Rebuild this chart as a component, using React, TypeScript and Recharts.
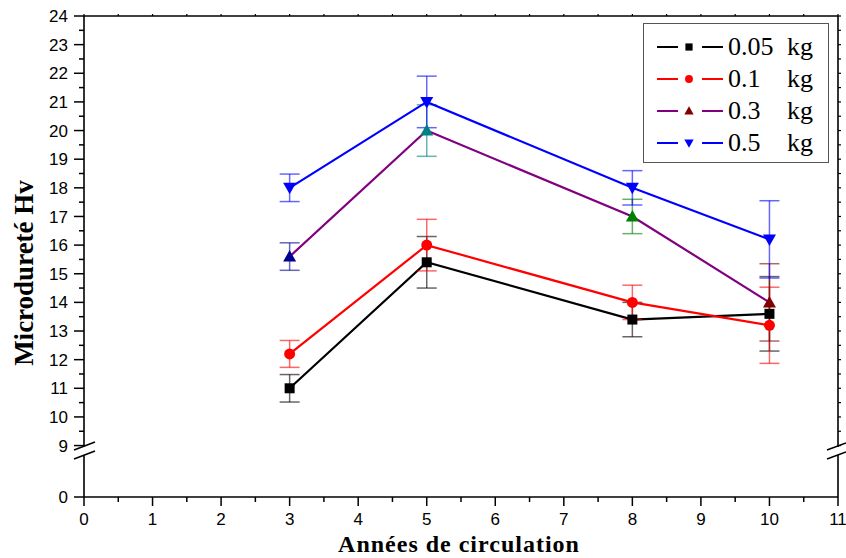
import { ErrorBar, Legend, Line, LineChart, XAxis, YAxis } from "recharts";

// Microhardness (Hv) vs years in service, per load
const YEARS = [3, 5, 8, 10];

const HV_005 = [11.0, 15.4, 13.4, 13.6];
const ERR_005 = [0.48, 0.9, 0.6, 1.3];
const HV_01 = [12.2, 16.0, 14.0, 13.2];
const ERR_01 = [0.47, 0.9, 0.6, 1.33];
const HV_03 = [15.6, 20.0, 17.0, 14.0];
const ERR_03 = [0.48, 0.9, 0.6, 1.35];
const HV_05 = [18.0, 21.0, 18.0, 16.2];
const ERR_05 = [0.48, 0.9, 0.6, 1.35];

// the 0.3 kg markers change colour from point to point
const COLORS_03 = ["#000090", "#008080", "#008000", "#800000"];

const X_TICKS = [0, 1, 2, 3, 4, 5, 6, 7, 8, 9, 10, 11];
const Y_TICKS = [9, 10, 11, 12, 13, 14, 15, 16, 17, 18, 19, 20, 21, 22, 23, 24];
const Y_LOW_TICKS = [0];

const X_HALF = X_TICKS.flatMap((v, i) => (i < X_TICKS.length - 1 ? [v, v + 0.5] : [v]));
const Y_HALF = Y_TICKS.flatMap((v, i) => (i < Y_TICKS.length - 1 ? [v, v + 0.5] : [v]));

type Shape = "square" | "circle" | "up" | "down";

const SERIES = [
  { key: "s005", err: "e005", name: "0.05 kg", color: "#000000", shape: "square" as Shape, marker: "#000000" },
  { key: "s01", err: "e01", name: "0.1 kg", color: "#ff0000", shape: "circle" as Shape, marker: "#ff0000" },
  { key: "s03", err: "e03", name: "0.3 kg", color: "#800080", shape: "up" as Shape, marker: "#800000" },
  { key: "s05", err: "e05", name: "0.5 kg", color: "#0000ff", shape: "down" as Shape, marker: "#0000ff" },
];

const rows = YEARS.map((x, i) => ({
  x,
  s005: HV_005[i],
  e005: ERR_005[i],
  s01: HV_01[i],
  e01: ERR_01[i],
  s03: HV_03[i],
  e03: ERR_03[i],
  s05: HV_05[i],
  e05: ERR_05[i],
}));

const W = 846;
const H = 558;
const TOP_PLOT_BOTTOM = 447; // upper panel (9..24) ends here
const TOP_H = 462; // a bit of room below for the "9" label
const LOW_TOP = 455; // lower panel (0) starts after the break
const LOW_H = H - LOW_TOP;

const sans = "'Liberation Sans', Arial, sans-serif";
const serif = "'Liberation Serif', 'Times New Roman', serif";
const axisStyle = { stroke: "#000", strokeWidth: 1.6 };

function Marker({ shape, cx, cy, fill, k = 1 }: { shape: Shape; cx: number; cy: number; fill: string; k?: number }) {
  if (shape === "square") return <rect x={cx - 5 * k} y={cy - 5 * k} width={10 * k} height={10 * k} fill={fill} />;
  if (shape === "circle") return <circle cx={cx} cy={cy} r={5.5 * k} fill={fill} />;
  if (shape === "up")
    return (
      <polygon
        points={`${cx},${cy - 6.5 * k} ${cx + 6.5 * k},${cy + 5 * k} ${cx - 6.5 * k},${cy + 5 * k}`}
        fill={fill}
      />
    );
  return (
    <polygon
      points={`${cx},${cy + 6.5 * k} ${cx + 6.5 * k},${cy - 5 * k} ${cx - 6.5 * k},${cy - 5 * k}`}
      fill={fill}
    />
  );
}

function LeftTick(props: any) {
  const { x, y, payload } = props;
  const major = Number.isInteger(payload.value);
  return (
    <g>
      <line x1={x} x2={x - (major ? 10 : 5)} y1={y} y2={y} stroke="#000" strokeWidth={1.5} />
      {major && (
        <text x={x - 16} y={y} dy="0.36em" textAnchor="end" fontFamily={sans} fontSize={17} fill="#000">
          {payload.value}
        </text>
      )}
    </g>
  );
}

function RightTick(props: any) {
  const { x, y } = props;
  return <line x1={x} x2={x + 3} y1={y} y2={y} stroke="#000" strokeWidth={1.2} />;
}

function TopTick(props: any) {
  const { x, y } = props;
  return <line x1={x} x2={x} y1={y} y2={y - 2} stroke="#000" strokeWidth={1.2} />;
}

function BottomTick(props: any) {
  const { x, y, payload } = props;
  const major = Number.isInteger(payload.value);
  return (
    <g>
      <line x1={x} x2={x} y1={y} y2={y + (major ? 9 : 5)} stroke="#000" strokeWidth={1.5} />
      {major && (
        <text x={x} y={y + 28} textAnchor="middle" fontFamily={sans} fontSize={17} fill="#000">
          {payload.value}
        </text>
      )}
    </g>
  );
}

function LegendBox() {
  return (
    <div
      style={{
        width: 186,
        height: 140,
        boxSizing: "border-box",
        border: "1.5px solid #555",
        background: "#fff",
        paddingTop: 7,
      }}
    >
      {SERIES.map((s) => {
        const [num, unit] = s.name.split(" ");
        return (
          <div key={s.key} style={{ display: "flex", alignItems: "center", height: 32 }}>
            <svg width={84} height={32} style={{ flex: "none" }}>
              <line x1={13} x2={34} y1={16} y2={16} stroke={s.color} strokeWidth={2} />
              <Marker shape={s.shape} cx={45} cy={16} fill={s.marker} k={0.72} />
              <line x1={58} x2={79} y1={16} y2={16} stroke={s.color} strokeWidth={2} />
            </svg>
            <span style={{ fontFamily: serif, fontSize: 26, width: 59, lineHeight: "32px" }}>{num}</span>
            <span style={{ fontFamily: serif, fontSize: 26, lineHeight: "32px" }}>{unit}</span>
          </div>
        );
      })}
    </div>
  );
}

export default function App() {
  return (
    <div style={{ position: "absolute", left: 0, top: 0, width: W, height: H, background: "#fff" }}>
      <div style={{ position: "absolute", left: 0, top: 0 }}>
        <LineChart
          width={W}
          height={TOP_H}
          data={rows}
          margin={{ top: 0, right: 0, bottom: TOP_H - TOP_PLOT_BOTTOM, left: 0 }}
        >
          <XAxis
            xAxisId="x"
            type="number"
            dataKey="x"
            orientation="top"
            domain={[0, 11]}
            ticks={X_HALF}
            interval={0}
            height={16}
            tickSize={0}
            tickMargin={0}
            tickLine={false}
            tick={<TopTick />}
            axisLine={axisStyle}
            allowDataOverflow
          />
          <YAxis
            yAxisId="y"
            type="number"
            domain={[8.95, 24]}
            ticks={Y_HALF}
            interval={0}
            width={84}
            tickSize={0}
            tickMargin={0}
            tickLine={false}
            tick={<LeftTick />}
            axisLine={axisStyle}
            allowDataOverflow
          />
          <YAxis
            yAxisId="r"
            orientation="right"
            type="number"
            domain={[8.95, 24]}
            ticks={Y_HALF}
            interval={0}
            width={8}
            tickSize={0}
            tickMargin={0}
            tickLine={false}
            tick={<RightTick />}
            axisLine={axisStyle}
            allowDataOverflow
          />
          {SERIES.map((s) => (
            <Line
              key={s.key}
              xAxisId="x"
              yAxisId="y"
              type="linear"
              dataKey={s.key}
              name={s.name}
              stroke={s.color}
              strokeWidth={2.2}
              isAnimationActive={false}
              activeDot={false}
              dot={(p: any) => (
                <Marker
                  key={`${s.key}-${p.index}`}
                  shape={s.shape}
                  cx={p.cx}
                  cy={p.cy}
                  fill={s.key === "s03" ? COLORS_03[p.index] : s.color}
                />
              )}
            >
              {s.key === "s03" ? (
                YEARS.map((yr, i) => (
                  <ErrorBar
                    key={yr}
                    dataKey={(row: any) => (row.x === yr ? row.e03 : undefined)}
                    direction="y"
                    width={10}
                    stroke={COLORS_03[i]}
                    strokeWidth={1.5}
                    strokeOpacity={0.6}
                    isAnimationActive={false}
                  />
                ))
              ) : (
                <ErrorBar
                  dataKey={s.err}
                  direction="y"
                  width={10}
                  stroke={s.color}
                  strokeWidth={1.5}
                  strokeOpacity={0.6}
                  isAnimationActive={false}
                />
              )}
            </Line>
          ))}
          <Legend
            layout="vertical"
            align="center"
            verticalAlign="middle"
            wrapperStyle={{ left: 643, top: 23, width: 186, height: 140 }}
            content={() => <LegendBox />}
          />
        </LineChart>
      </div>

      <div style={{ position: "absolute", left: 0, top: LOW_TOP }}>
        <LineChart width={W} height={LOW_H} data={rows} margin={{ top: 0, right: 0, bottom: 0, left: 0 }}>
          <XAxis
            xAxisId="x"
            type="number"
            dataKey="x"
            domain={[0, 11]}
            ticks={X_HALF}
            interval={0}
            height={61}
            tickSize={0}
            tickMargin={0}
            tickLine={false}
            tick={<BottomTick />}
            axisLine={axisStyle}
            allowDataOverflow
          />
          <YAxis
            yAxisId="y"
            type="number"
            domain={[0, 1.47]}
            ticks={Y_LOW_TICKS}
            interval={0}
            width={84}
            tickSize={0}
            tickMargin={0}
            tickLine={false}
            tick={<LeftTick />}
            axisLine={axisStyle}
            allowDataOverflow
          />
          <YAxis
            yAxisId="r"
            orientation="right"
            type="number"
            domain={[0, 1.47]}
            width={8}
            tick={false}
            tickLine={false}
            axisLine={axisStyle}
            allowDataOverflow
          />
        </LineChart>
      </div>

      <svg width={W} height={H} style={{ position: "absolute", left: 0, top: 0, pointerEvents: "none" }}>
        {/* axis break marks */}
        <line x1={74} y1={450} x2={95} y2={442} stroke="#000" strokeWidth={1.6} />
        <line x1={74} y1={459} x2={95} y2={451} stroke="#000" strokeWidth={1.6} />
        <line x1={827} y1={450} x2={846} y2={443} stroke="#000" strokeWidth={1.6} />
        <line x1={827} y1={459} x2={846} y2={452} stroke="#000" strokeWidth={1.6} />
        <text
          x={33}
          y={273}
          transform="rotate(-90, 33, 273)"
          textAnchor="middle"
          fontFamily={serif}
          fontWeight="bold"
          fontSize={27}
          fill="#000"
        >
          Microdureté Hv
        </text>
        <text
          x={459}
          y={552}
          textAnchor="middle"
          fontFamily={serif}
          fontWeight="bold"
          fontSize={24}
          letterSpacing={1}
          fill="#000"
        >
          Années de circulation
        </text>
      </svg>
    </div>
  );
}
